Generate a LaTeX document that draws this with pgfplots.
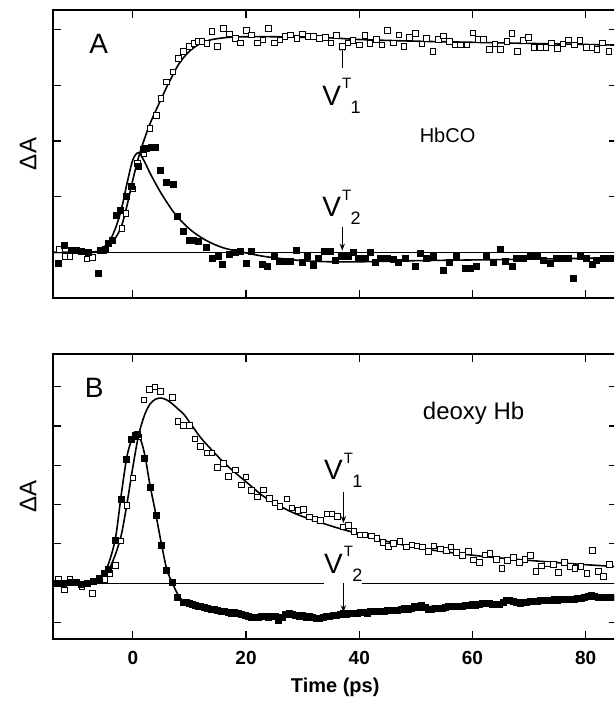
\documentclass[border=0pt]{standalone}
\usepackage{fontspec}
\setmainfont{Liberation Sans}
\usepackage{pgfplots}
\pgfplotsset{compat=1.18}
\usetikzlibrary{arrows.meta}

% V^T_n label as in the figure
\newcommand\VT[1]{\fontsize{14}{14}\selectfont V\kern0.6pt\raisebox{8.3pt}{\fontsize{7.5}{8}\selectfont T}\kern-0.3pt\raisebox{-3.9pt}{\fontsize{9}{9}\selectfont #1}}

\tikzset{arr/.style={line width=0.5pt, -{Stealth[length=3.5pt,width=2.6pt]}}}
\pgfplotsset{
  panel/.style={scale only axis, width=282.2pt,
    xmin=-14.1, xmax=85.6, xtick={0,20,...,80},
    tick align=inside, major tick length=4pt,
    axis line style={line width=0.8pt},
    every tick/.style={black, line width=0.6pt},
    yticklabels={},
    ylabel={ΔA},
    ylabel style={at={(axis description cs:0,0.5)}, anchor=center, yshift=12.4pt,
      font=\fontsize{12}{12}\selectfont},
    /pgf/number format/assume math mode=true},
  fit/.style={black, line width=0.8pt, smooth, no markers},
  open/.style={only marks, mark=square*, mark size=1.4pt,
    mark options={fill=white, draw=black, line width=0.5pt}},
  full/.style={only marks, mark=square*, mark size=1.5pt,
    mark options={fill=black, draw=black}}
}

\begin{document}
\begin{tikzpicture}
\useasboundingbox (0,0) rectangle (307pt,-352pt);
\clip (0,0) rectangle (307pt,-352pt);

% ---------- A: HbCO ----------
\begin{axis}[panel, at={(26.5pt,-5pt)}, anchor=north west, height=144pt,
  ymin=-0.82, ymax=4.35, ytick={0,1,2,3,4}, xticklabels={}]
\addplot[black, line width=0.7pt] coordinates {(-14.1,0) (85.6,0)};
\addplot[fit] coordinates {
 (-14.1,0) (-8,0) (-6,0.02) (-5,0.06) (-4,0.14) (-3,0.27) (-2,0.47) (-1,0.85)
 (0,1.3) (1,1.7) (2,2.02) (3,2.3) (4,2.53) (5,2.75) (6,2.97) (7,3.17) (8,3.36)
 (9,3.5) (10,3.61) (11,3.69) (12,3.75) (14,3.82) (17,3.86) (20,3.87) (25,3.87)
 (30,3.86) (35,3.85) (40,3.82) (50,3.79) (60,3.77) (70,3.75) (85.6,3.72)};
\addplot[fit] coordinates {
 (-14.1,0) (-7,0) (-6,0.03) (-5,0.1) (-4,0.22) (-3,0.45) (-2,0.78) (-1,1.25)
 (0,1.66) (1,1.79) (2,1.64) (3,1.43) (4,1.24) (5,1.06) (6,0.9) (7,0.75) (8,0.62)
 (10,0.42) (12,0.27) (14,0.16) (16,0.08) (18,0.03) (20,-0.01) (23,-0.07)
 (26,-0.11) (30,-0.15) (35,-0.17) (40,-0.17) (50,-0.15) (65,-0.13) (85.6,-0.1)};
\addplot[open] coordinates {
 (-12.96,0.05) (-11.96,-0.08) (-11.1,-0.08) (-10.0,0.03) (-9.0,0.02) (-8.1,-0.12)
 (-7.1,-0.09) (-5.2,0.03) (-3.7,0.22) (-1.9,0.43) (-1.2,0.70) (0.0,1.14) (0.85,1.59)
 (2.0,1.77) (3.0,2.22) (4.2,2.46) (5.0,2.76) (6.0,3.06) (7.1,3.24) (8.1,3.48)
 (9.0,3.6) (10.0,3.69) (10.8,3.75) (11.6,3.78) (12.2,3.78) (13.1,3.75) (14.0,3.96)
 (14.97,3.69) (16.0,4.02) (17.1,3.92) (18.1,3.84) (19.0,3.76) (20.1,3.98) (21.0,3.9)
 (22.0,3.76) (23.0,3.81) (24.0,4.02) (25.0,3.76) (26.0,3.81) (26.9,3.87) (27.9,3.9)
 (29.0,3.84) (30.0,3.92) (31.0,3.87) (31.9,3.87) (32.98,3.84) (34.0,3.86) (35.0,3.76)
 (36.0,3.89) (37.0,3.69) (37.98,3.76) (38.9,3.8) (40.0,3.72) (41.0,3.89) (41.9,3.75)
 (43.0,3.82) (44.0,3.72) (45.0,3.98) (46.0,3.76) (47.0,3.9) (47.9,3.7) (48.9,3.86)
 (49.9,3.93) (51.1,3.74) (51.9,3.84) (53.0,3.6) (54.0,3.82) (54.9,3.88) (55.9,3.78)
 (56.9,3.72) (57.9,3.72) (59.0,3.72) (60.1,3.94) (61.1,3.82) (61.9,3.82) (63.0,3.64)
 (64.0,3.74) (65.0,3.64) (66.1,3.78) (66.96,3.93) (67.96,3.6) (69.0,3.8) (69.9,3.86)
 (70.9,3.68) (71.96,3.68) (72.96,3.68) (74.0,3.76) (75.0,3.66) (75.97,3.74) (76.96,3.81)
 (77.97,3.72) (79.0,3.8) (80.1,3.68) (81.1,3.68) (81.98,3.64) (83.0,3.76) (84.1,3.6)};
\addplot[full] coordinates {
 (-13.1,-0.2) (-12.1,0.13) (-10.8,0.04) (-10.0,0.04) (-9.0,0.02) (-7.9,0.0) (-6.1,-0.37)
 (-5.8,0.04) (-4.9,0.05) (-4.3,0.16) (-3.6,0.22) (-2.9,0.67) (-2.2,0.76) (-1.06,1.01)
 (-0.2,1.18) (1.0,1.54) (1.9,1.84) (2.4,1.87) (3.3,1.88) (3.9,1.88) (4.95,1.47)
 (6.0,1.25) (7.1,1.22) (7.95,0.64) (8.95,0.37) (10.0,0.22) (10.7,0.22) (11.5,0.2)
 (12.96,0.08) (14.0,-0.11) (15.1,-0.08) (15.9,-0.22) (17.1,-0.04) (18.1,0.0) (19.0,0.02)
 (20.0,-0.2) (21.0,0.02) (22.97,-0.22) (23.8,-0.26) (25.0,-0.07) (25.9,-0.16) (26.9,-0.16)
 (27.9,-0.17) (28.9,0.04) (29.9,-0.18) (30.9,-0.08) (31.9,-0.23) (32.8,-0.11) (33.8,0.01)
 (34.9,0.01) (35.8,-0.14) (36.9,-0.08) (38.1,-0.08) (39.0,0.0) (39.9,-0.11) (41.0,-0.11)
 (41.9,0.0) (42.8,-0.18) (43.7,-0.11) (44.9,-0.11) (46.0,-0.12) (46.9,-0.18) (48.1,-0.11)
 (49.9,-0.26) (50.8,-0.02) (51.9,-0.11) (53.1,-0.08) (54.9,-0.32) (55.9,-0.18) (57.2,-0.08)
 (58.7,-0.29) (59.7,-0.29) (60.7,-0.26) (62.5,-0.08) (63.7,-0.18) (64.9,0.06) (65.8,-0.17)
 (67.0,-0.26) (67.8,-0.11) (69.0,-0.11) (70.2,-0.08) (71.4,-0.08) (72.6,-0.14) (73.7,-0.2)
 (74.9,-0.11) (76.1,-0.11) (76.9,-0.11) (77.9,-0.46) (79.1,-0.08) (80.2,-0.11) (81.1,-0.22)
 (81.9,-0.14) (83.1,-0.11) (84.3,-0.11)};
\node[font=\fontsize{14}{14}\selectfont] at (axis cs:-6.04,3.75) {A};
\node[font=\fontsize{10}{10}\selectfont] at (axis cs:55.6,2.10) {HbCO};
\node[anchor=base west, inner sep=0pt] at (axis cs:33.4,2.64) {\VT{1}};
\node[anchor=base west, inner sep=0pt] at (axis cs:33.4,0.64) {\VT{2}};
\draw[arr] (axis cs:37,3.31) -- (axis cs:37,3.74);
\draw[arr] (axis cs:37,0.46) -- (axis cs:37,0.03);
\end{axis}

% ---------- B: deoxy Hb ----------
\begin{axis}[panel, at={(26.5pt,-177pt)}, anchor=north west, height=142.5pt,
  ymin=-1.42, ymax=5.83, ytick={-1,0,...,5},
  xticklabel style={font=\bfseries\fontsize{9.5}{10}\selectfont, yshift=-2.5pt},
  xlabel={Time (ps)},
  xlabel style={at={(axis description cs:0.5,0)}, anchor=center, yshift=-24pt,
    font=\bfseries\fontsize{10}{10}\selectfont}]
\addplot[black, line width=0.6pt] coordinates {(-14.1,0) (33.7,0)};
\addplot[black, line width=0.6pt] coordinates {(40.5,0) (85.6,0)};
\addplot[fit] coordinates {
 (-14.1,0) (-8,0) (-6,0.05) (-5,0.17) (-4,0.41) (-3,0.76) (-2,1.25) (-1,2.05)
 (0,2.95) (1,3.75) (2,4.25) (3,4.55) (4,4.68) (5,4.71) (6,4.66) (7,4.56) (8,4.43)
 (9,4.3) (10,4.1) (12,3.7) (14,3.38) (16,3.08) (18,2.82) (20,2.58) (23,2.22)
 (26,1.96) (29,1.75) (33,1.55) (37,1.37) (41,1.22) (45,1.06) (50,0.91) (55,0.8)
 (62,0.68) (70,0.58) (78,0.49) (85.6,0.42)};
\addplot[fit] coordinates {
 (-14.1,0) (-7,0) (-6,0.05) (-5,0.25) (-4,0.62) (-3,1.2) (-2,2.3) (-1,3.25)
 (0,3.72) (0.7,3.8) (1.5,3.6) (2.2,3.2) (3,2.52) (4,1.8) (5,1.04) (6,0.35) (7,0.0)
 (8,-0.3) (9,-0.47) (10,-0.54) (12,-0.62) (16,-0.74) (20,-0.81) (24,-0.84)
 (29,-0.81) (33,-0.84) (37,-0.79) (44,-0.72) (52,-0.6) (62,-0.5) (74,-0.42)
 (80,-0.36) (85.6,-0.35)};
\addplot[open] coordinates {
 (-13.1,0.09) (-12.1,-0.17) (-11.1,0.09) (-9.9,0.03) (-9.0,-0.1) (-8.0,0.0) (-7.1,-0.26)
 (-5.8,0.08) (-4.9,0.1) (-4.0,0.24) (-3.1,0.45) (-2.1,1.07) (-1.06,1.97) (0.0,2.68)
 (1.0,3.72) (2.0,4.66) (2.93,4.92) (3.9,4.99) (4.9,4.88) (7.06,4.73) (7.95,4.12)
 (8.95,4.01) (10.0,4.01) (11.0,3.67) (12.0,3.48) (13.1,3.31) (13.96,3.31) (14.96,2.95)
 (16.0,3.05) (16.9,2.72) (18.1,2.88) (19.2,2.5) (20.0,2.7) (21.0,2.36) (22.0,2.19)
 (23.1,2.37) (24.1,2.15) (25.1,2.04) (26.0,1.95) (27.2,2.14) (28.1,1.91) (29.3,1.85)
 (30.1,1.88) (31.2,1.68) (32.2,1.63) (33.2,1.6) (34.3,1.76) (35.2,1.76) (36.2,1.7)
 (37.2,1.43) (38.1,1.46) (39.1,1.31) (40.2,1.23) (41.0,1.23) (42.2,1.2) (43.1,1.14)
 (44.2,1.03) (45.2,0.93) (46.05,1.01) (47.2,1.06) (48.3,0.92) (49.3,0.97) (50.2,0.95)
 (51.2,0.92) (52.2,0.81) (53.2,0.95) (54.3,0.87) (55.4,0.83) (56.2,0.92) (57.2,0.78)
 (58.2,0.70) (59.3,0.81) (60.2,0.59) (61.2,0.53) (62.2,0.72) (63.1,0.75) (64.2,0.6)
 (65.2,0.38) (66.2,0.57) (67.2,0.66) (68.3,0.53) (69.3,0.61) (70.2,0.70) (71.2,0.3)
 (72.2,0.44) (73.2,0.49) (74.3,0.47) (75.2,0.27) (76.2,0.53) (77.3,0.42) (78.1,0.38)
 (79.2,0.42) (80.2,0.25) (81.2,0.83) (82.3,0.3) (83.1,0.17) (84.2,0.47)};
\addplot[full] coordinates {
 (-13.3,0) (-12.2,0) (-11.1,0.03) (-10.0,0.03) (-9.0,-0.03) (-8.0,0) (-6.95,0.05)
 (-5.9,0.11) (-5.1,0.24) (-4.3,0.36) (-3.1,1.08) (-2.1,2.14) (-1.2,3.16) (-0.2,3.67)
 (0.4,3.76) (0.8,3.78) (2.05,3.18) (3.05,2.44) (4.1,1.72) (5.1,0.96) (6.0,0.32)
 (7.0,0.03) (7.9,-0.35) (8.9,-0.49) (9.5,-0.5) (10.0,-0.51) (10.5,-0.53) (11.0,-0.57)
 (11.5,-0.58) (12.0,-0.6) (12.6,-0.62) (13.2,-0.63) (13.8,-0.66) (14.4,-0.67) (15.0,-0.7)
 (15.6,-0.72) (16.2,-0.73) (16.8,-0.75) (17.4,-0.76) (18.0,-0.74) (18.6,-0.78) (19.2,-0.8)
 (19.8,-0.82) (20.4,-0.84) (21.0,-0.86) (21.6,-0.88) (22.2,-0.87) (22.8,-0.85) (23.4,-0.84)
 (24.0,-0.86) (24.6,-0.84) (25.2,-0.85) (25.8,-0.95) (26.4,-0.86) (27.0,-0.8) (27.6,-0.78)
 (28.2,-0.8) (28.8,-0.82) (29.4,-0.84) (30.0,-0.83) (30.6,-0.86) (31.2,-0.85) (31.8,-0.87)
 (32.4,-0.89) (33.0,-0.9) (33.6,-0.88) (34.2,-0.85) (34.8,-0.84) (35.4,-0.82) (36.0,-0.83)
 (36.6,-0.79) (37.2,-0.78) (37.8,-0.8) (38.4,-0.77) (39.0,-0.78) (39.6,-0.76) (40.2,-0.75)
 (40.8,-0.74) (41.4,-0.76) (42.0,-0.73) (42.6,-0.72) (43.2,-0.73) (43.8,-0.71) (44.4,-0.72)
 (45.0,-0.69) (45.6,-0.7) (46.2,-0.68) (46.8,-0.69) (47.4,-0.66) (48.0,-0.65) (48.6,-0.66)
 (49.2,-0.64) (49.8,-0.6) (50.4,-0.62) (51.0,-0.56) (51.6,-0.62) (52.2,-0.66) (52.8,-0.67)
 (53.4,-0.65) (54.0,-0.64) (54.6,-0.63) (55.2,-0.62) (55.8,-0.6) (56.4,-0.6) (57.0,-0.59)
 (57.6,-0.58) (58.2,-0.58) (58.8,-0.57) (59.4,-0.56) (60.0,-0.55) (60.6,-0.56) (61.2,-0.53)
 (61.8,-0.52) (62.4,-0.51) (63.0,-0.52) (63.6,-0.55) (64.2,-0.54) (64.8,-0.55) (65.4,-0.5)
 (66.0,-0.45) (66.6,-0.43) (67.2,-0.47) (67.8,-0.5) (68.4,-0.51) (69.0,-0.49) (69.6,-0.48)
 (70.2,-0.47) (70.8,-0.46) (71.4,-0.46) (72.0,-0.45) (72.6,-0.44) (73.2,-0.45) (73.8,-0.43)
 (74.4,-0.42) (75.0,-0.43) (75.6,-0.42) (76.2,-0.41) (76.8,-0.42) (77.4,-0.41) (78.0,-0.4)
 (78.6,-0.39) (79.2,-0.38) (79.8,-0.36) (80.4,-0.33) (81.0,-0.3) (81.6,-0.33) (82.2,-0.36)
 (82.8,-0.37) (83.4,-0.37) (84.0,-0.36) (84.6,-0.37)};
\node[font=\fontsize{14}{14}\selectfont] at (axis cs:-6.8,4.97) {B};
\node[font=\fontsize{12}{12}\selectfont] at (axis cs:60.2,4.33) {deoxy Hb};
\node[anchor=base west, inner sep=0pt] at (axis cs:33.7,2.63) {\VT{1}};
\node[anchor=base west, inner sep=0pt] at (axis cs:33.7,0.25) {\VT{2}};
\draw[arr] (axis cs:37.2,2.33) -- (axis cs:37.2,1.53);
\draw[arr] (axis cs:37.2,0.0) -- (axis cs:37.2,-0.74);
\end{axis}
\end{tikzpicture}
\end{document}
